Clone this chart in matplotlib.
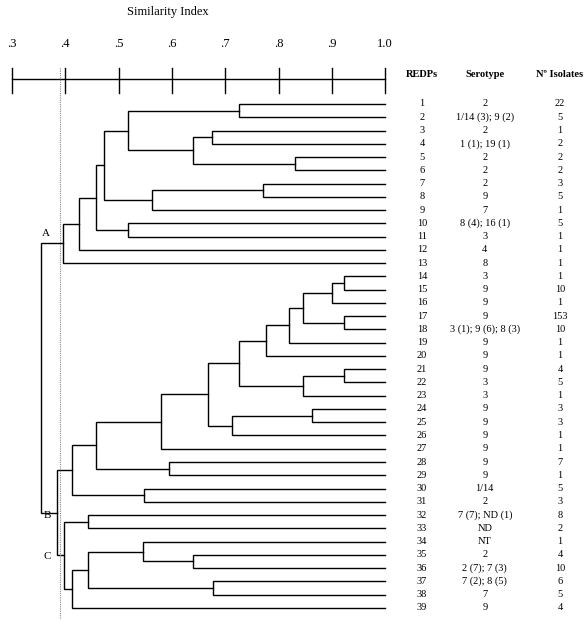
import matplotlib
matplotlib.use("Agg")
import matplotlib.pyplot as plt

plt.rcParams['font.family'] = ['Liberation Serif', 'DejaVu Serif']

# dendrogram merges (scipy style: leaves 0..38, merge k -> id 39+k)
n_leaves = 39
merge_a = [0, 2, 4, 40, 39, 6, 44, 43, 9, 46, 48, 49,
           13, 51, 16, 52, 54, 55, 20, 57, 56, 23, 60, 59, 62, 27, 63, 29, 65,
           31, 34, 33, 36, 70, 72, 68, 67, 50]
merge_b = [1, 3, 5, 41, 42, 7, 8, 45, 10, 47, 11, 12,
           14, 15, 17, 53, 18, 19, 21, 22, 58, 24, 25, 61, 26, 28, 64, 30, 66,
           32, 35, 69, 37, 71, 38, 73, 74, 75]
merge_sim = [0.726, 0.675, 0.831, 0.639, 0.518, 0.771, 0.562, 0.473, 0.517, 0.458, 0.426, 0.395,
             0.923, 0.900, 0.923, 0.846, 0.819, 0.777, 0.923, 0.846, 0.726, 0.862, 0.713, 0.667,
             0.580, 0.595, 0.458, 0.548, 0.413, 0.443, 0.640, 0.546, 0.677, 0.443, 0.413,
             0.398, 0.384, 0.354]

redps = [str(i) for i in range(1, 40)]
serotype = ["2", "1/14 (3); 9 (2)", "2", "1 (1); 19 (1)", "2", "2", "2", "9", "7",
            "8 (4); 16 (1)", "3", "4", "8", "3", "9", "9", "9", "3 (1); 9 (6); 8 (3)",
            "9", "9", "9", "3", "3", "9", "9", "9", "9", "9", "9", "1/14", "2",
            "7 (7); ND (1)", "ND", "NT", "2", "2 (7); 7 (3)", "7 (2); 8 (5)", "7", "9"]
isolates = [22, 5, 1, 2, 2, 2, 3, 5, 1, 5, 1, 1, 1, 1, 10, 1, 153, 10, 1, 1, 4, 5,
            1, 3, 3, 1, 1, 7, 1, 5, 3, 8, 2, 1, 4, 10, 6, 5, 4]

tick_vals = [0.3, 0.4, 0.5, 0.6, 0.7, 0.8, 0.9, 1.0]
tick_labels = [".3", ".4", ".5", ".6", ".7", ".8", ".9", "1.0"]
cut_off = 0.39

fig = plt.figure(figsize=(5.86, 6.21), dpi=100)
ax = fig.add_axes([0, 0, 1, 1])
ax.set_xlim(0.2775, 1.3769)
ax.set_ylim(39.99, -6.843)
ax.axis('off')

lw = 1.0
# node positions: x = similarity, y = row
pos = {}
for i in range(n_leaves):
    pos[i] = (1.0, i + 1)
for k in range(len(merge_sim)):
    a, b, s = merge_a[k], merge_b[k], merge_sim[k]
    xa, ya = pos[a]
    xb, yb = pos[b]
    ax.plot([xa, s, s, xb], [ya, ya, yb, yb], color='black', lw=lw,
            solid_joinstyle='miter')
    pos[n_leaves + k] = (s, (ya + yb) / 2)

# ruler
ax.plot([0.3, 1.0], [-0.885, -0.885], color='black', lw=1.0)
for v, lab in zip(tick_vals, tick_labels):
    ax.plot([v, v], [-1.715, 0.17], color='black', lw=1.0)
    ax.text(v, -3.52, lab, ha='center', va='center', fontsize=9)
ax.text(0.593, -5.97, "Similarity Index", ha='center', va='center', fontsize=9)

# cut-off line
ax.plot([cut_off, cut_off], [-1.715, 39.76], color='#888888', lw=0.8, ls=(0, (1, 1)))

# cluster labels
ax.text(0.364, 10.8, "A", ha='center', va='center', fontsize=8)
ax.text(0.366, 32.07, "B", ha='center', va='center', fontsize=8)
ax.text(0.366, 35.09, "C", ha='center', va='center', fontsize=8)

# table
col_x = [1.069, 1.187, 1.328]
ax.text(col_x[0], -1.19, "REDPs", ha='center', va='center', fontsize=7.5, fontweight='bold')
ax.text(col_x[1], -1.19, "Serotype", ha='center', va='center', fontsize=7.5, fontweight='bold')
ax.text(col_x[2], -1.19, "N\u00ba Isolates", ha='center', va='center', fontsize=7.5, fontweight='bold')
for i in range(n_leaves):
    y = i + 1
    ax.text(col_x[0], y, redps[i], ha='center', va='center', fontsize=7.5)
    ax.text(col_x[1], y, serotype[i], ha='center', va='center', fontsize=7.5)
    ax.text(col_x[2], y, str(isolates[i]), ha='center', va='center', fontsize=7.5)

fig.savefig("out.png", dpi=100)
